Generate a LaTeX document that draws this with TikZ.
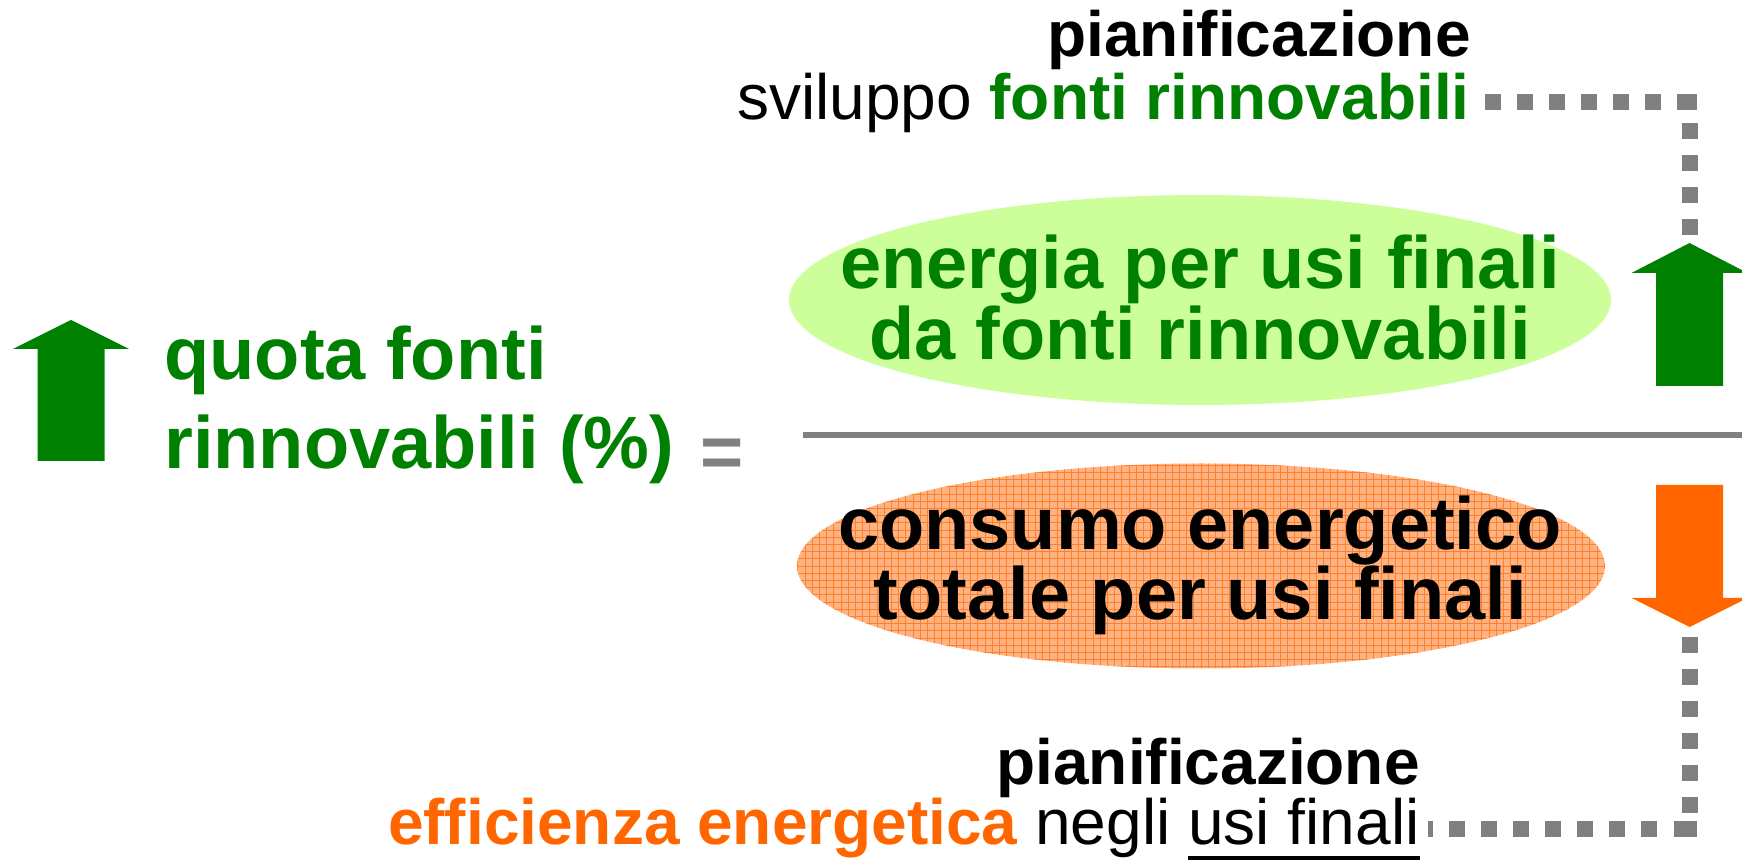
\documentclass[tikz,border=0pt]{standalone}
\usepackage{fontspec}
\setmainfont{Liberation Sans}
\usetikzlibrary{shapes.geometric}
\definecolor{vgreen}{HTML}{008000}
\definecolor{lgreen}{HTML}{CCFF99}
\definecolor{vorange}{HTML}{FF6600}
\definecolor{lorange}{HTML}{FFB383}
\definecolor{gorange}{HTML}{FF7F2A}
\definecolor{vgray}{HTML}{808080}
\newcommand\ulfin[1]{\setbox0\hbox{#1}\rlap{\rule[-7.5pt]{\wd0}{2pt}}\box0}
\begin{document}
\begin{tikzpicture}[x=0.5pt,y=-0.5pt,
  big/.style={font=\fontsize{37}{44}\selectfont\bfseries, inner sep=0pt},
  mid/.style={font=\fontsize{32}{38}\selectfont, inner sep=0pt},
  midb/.style={font=\fontsize{32}{38}\selectfont\bfseries, inner sep=0pt},
  dotline/.style={draw=vgray, line width=8pt, line cap=butt, dash pattern=on 8pt off 8pt},
  ellbox/.style={ellipse, inner sep=0pt, draw=none}]
\useasboundingbox (0,0) rectangle (1742,860);
% ellipses
\node[ellbox, fill=lgreen, minimum width=411pt, minimum height=105pt] (enell) at (1200,300) {};
\node[ellbox, fill=lorange, minimum width=404pt, minimum height=102.5pt,
  path picture={\draw[gorange, line width=0.45pt] (path picture bounding box.south west) grid[step=3.6pt] (path picture bounding box.north east);}] (coell) at (1201,566) {};
% fraction line
\coordinate (fl) at (803,435);
\coordinate (fr) at (1742,435);
\draw[vgray, line width=3pt] (fl) -- (fr);
% arrows
\fill[vgreen] (37.5,461) -- (37.5,349) -- (13,349) -- (71,320) -- (129,349) -- (104.5,349) -- (104.5,461) -- cycle;
\fill[vgreen] (1656,386) -- (1656,273) -- (1631.5,273) -- (1689.5,243) -- (1747.5,273) -- (1723,273) -- (1723,386) -- cycle;
\fill[vorange] (1656,485) -- (1656,598) -- (1631.5,598) -- (1689.5,627) -- (1747.5,598) -- (1723,598) -- (1723,485) -- cycle;
% dotted connectors
\coordinate (tv1) at (1689.5,235);
\coordinate (tv2) at (1689.5,123);
\coordinate (th1) at (1697,102.5);
\coordinate (th2) at (1485,102.5);
\draw[dotline] (tv1) -- (tv2);
\draw[dotline, dash pattern=on 10pt off 8pt on 8pt off 8pt on 8pt off 8pt on 8pt off 8pt on 8pt off 8pt on 8pt off 8pt on 8pt off 8pt on 8pt off 8pt] (th1) -- (th2);
\coordinate (bv1) at (1689.5,637);
\coordinate (bv2) at (1689.5,813);
\coordinate (bh1) at (1697,829);
\coordinate (bh2) at (1428,829);
\draw[dotline] (bv1) -- (bv2);
\draw[dotline, dash pattern=on 11.5pt off 8.5pt on 8pt off 8pt on 8pt off 8pt on 8pt off 8pt on 8pt off 8pt on 8pt off 8pt on 8pt off 8pt on 8pt off 8pt on 8pt off 8pt] (bh1) -- (bh2);
% texts
\node[midb, anchor=base east] (tpl) at (1471,57) {pianificazione};
\node[mid, anchor=base east] (tsv) at (1470,120) {sviluppo \textbf{\color{vgreen}fonti rinnovabili}};
\node[midb, anchor=base east] (bpl) at (1420,785) {pianificazione};
\node[mid, anchor=base east] (bef) at (1420,845) {\textbf{\color{vorange}efficienza energetica} negli \ulfin{usi finali}};
\node[big, text=vgreen, anchor=base west] (q1) at (164,380) {quota fonti};
\node[big, text=vgreen, anchor=base west] (q2) at (164,469) {rinnovabili (\%)};
\node[big, text=vgray, anchor=base west] (eq) at (700,478) {=};
\node[big, text=vgreen, anchor=base] (en1) at (1200,289) {energia per usi finali};
\node[big, text=vgreen, anchor=base] (en2) at (1200,360) {da fonti rinnovabili};
\node[big, anchor=base] (co1) at (1200,550) {consumo energetico};
\node[big, anchor=base] (co2) at (1200,620) {totale per usi finali};
\end{tikzpicture}
\end{document}
